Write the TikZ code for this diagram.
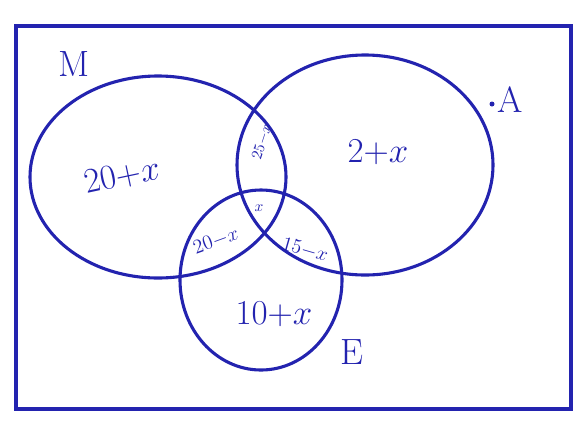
\documentclass[tikz,border=0pt]{standalone}
\usepackage{tikz}

\definecolor{encre}{RGB}{35,35,175}
\tikzset{ensemble/.style={draw=encre, line width=2.2pt},
         etiq/.style={text=encre, font=\fontsize{26}{30}\selectfont, inner sep=1pt},
         zone/.style={text=encre, font=\fontsize{24}{28}\selectfont, inner sep=1pt},
         moyenne/.style={text=encre, font=\fontsize{15}{18}\selectfont, inner sep=1pt},
         petite/.style={text=encre, font=\fontsize{11}{13}\selectfont, inner sep=0pt}}

\begin{document}
\begin{tikzpicture}[x=0.025cm, y=-0.025cm]
            \useasboundingbox (0,0) rectangle (582,423);
            % Le cadre (l'univers)
            \draw[ensemble] (16,26) rectangle (571,409);

            % Les ensembles
            \draw[ensemble] (158,177) ellipse [x radius=128, y radius=101];
            \draw[ensemble] (365,165) ellipse [x radius=128, y radius=110];
            \draw[ensemble] (261,280) ellipse [x radius=81, y radius=90];

            % Les noms des ensembles
            \node[etiq] (M) at (74,64) {M};
            \node[etiq] (A) at (510,100) {A};
            \node[etiq] (E) at (352,352) {E};
            \fill[encre] (492,104) circle (2.5);

            % Les effectifs
            \node[zone, rotate=12] (m) at (122,176) {$20{+}x$};
            \node[zone] (a) at (378,152) {$2{+}x$};
            \node[zone] (e) at (274,314) {$10{+}x$};
            \node[moyenne, rotate=20] (me) at (216,241) {$20{-}x$};
            \node[moyenne, rotate=-16] (ae) at (305,250) {$15{-}x$};
            \node[petite, rotate=72] (ma) at (262,142) {$25{-}x$};
            \node[petite] (mae) at (259,208) {$x$};
        \end{tikzpicture}
\end{document}
